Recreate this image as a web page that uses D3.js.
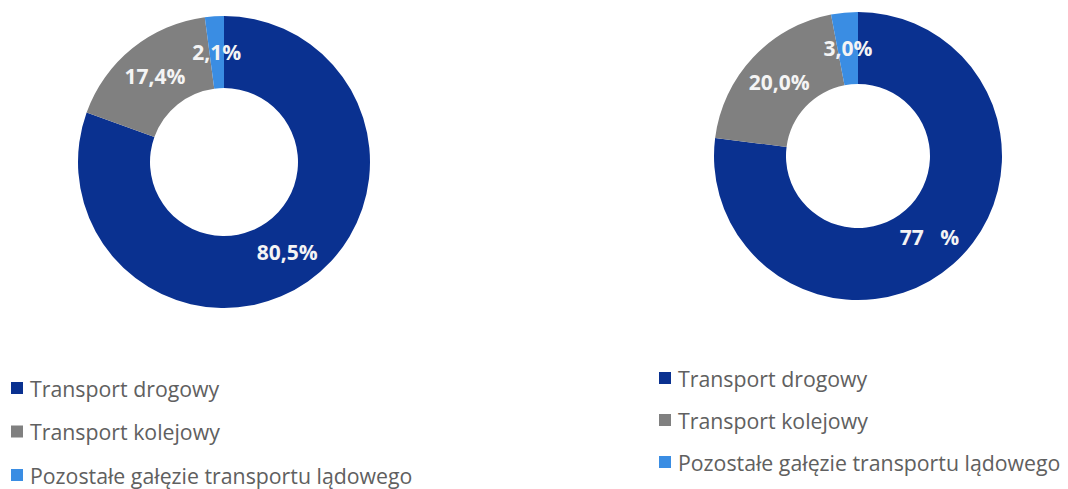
<!DOCTYPE html>
<html>
<head>
<meta charset="utf-8">
<script src="https://cdn.jsdelivr.net/npm/d3@7"></script>
<style>
  body { margin: 0; background: #fff; }
  svg { display: block; }
  .lbl { font-family: "Open Sans", sans-serif; font-weight: bold; font-size: 21px; fill: #f4f4f4; white-space: pre; }
  .leg { font-family: "Open Sans", sans-serif; font-size: 21.3px; fill: #606060; }
</style>
</head>
<body>
<svg id="chart"></svg>
<script>
var categories = ["Transport drogowy", "Transport kolejowy", "Pozostałe gałęzie transportu lądowego"];
var leftValues = [80.5, 17.4, 2.1];
var rightValues = [77.0, 20.0, 3.0];
var leftLabels = ["80,5%", "17,4%", "2,1%"];
var rightLabels = ["77   %", "20,0%", "3,0%"];
var colors = ["#0a3190", "#808080", "#3a8de3"];

var screen = {width: 1068, height: 489};
var svg = d3.select("#chart")
    .attr("width", screen.width)
    .attr("height", screen.height);

var color = d3.scaleOrdinal().domain(categories).range(colors);

var drawDonut = function(values, labels, cx, cy, outer, inner)
{
    var pie = d3.pie().sort(null).value(function(d){ return d; });
    var arc = d3.arc().innerRadius(inner).outerRadius(outer);
    var g = svg.append("g").attr("transform", "translate(" + cx + "," + cy + ")");
    var arcs = pie(values);

    g.selectAll("path")
      .data(arcs)
      .enter()
      .append("path")
      .attr("d", arc)
      .attr("fill", function(d, i){ return color(categories[i]); });

    g.selectAll("text")
      .data(arcs)
      .enter()
      .append("text")
      .attr("class", "lbl")
      .attr("x", function(d){ return arc.centroid(d)[0]; })
      .attr("y", function(d){ return arc.centroid(d)[1]; })
      .attr("text-anchor", "middle")
      .attr("dominant-baseline", "central")
      .text(function(d, i){ return labels[i]; });
}

var drawLegend = function(x, y, step)
{
    var g = svg.append("g").attr("transform", "translate(" + x + "," + y + ")");
    var rows = g.selectAll("g")
      .data(categories)
      .enter()
      .append("g")
      .attr("transform", function(d, i){ return "translate(0," + (i * step) + ")"; });
    rows.append("rect")
      .attr("x", 0).attr("y", -6)
      .attr("width", 12).attr("height", 12)
      .attr("fill", function(d){ return color(d); });
    rows.append("text")
      .attr("class", "leg")
      .attr("x", 19)
      .attr("dominant-baseline", "central")
      .text(function(d){ return d; });
}

drawDonut(leftValues, leftLabels, 224, 162, 146, 74);
drawDonut(rightValues, rightLabels, 858, 156, 144, 72);
drawLegend(11, 388, 43.5);
drawLegend(659, 378, 42);
</script>
</body>
</html>
